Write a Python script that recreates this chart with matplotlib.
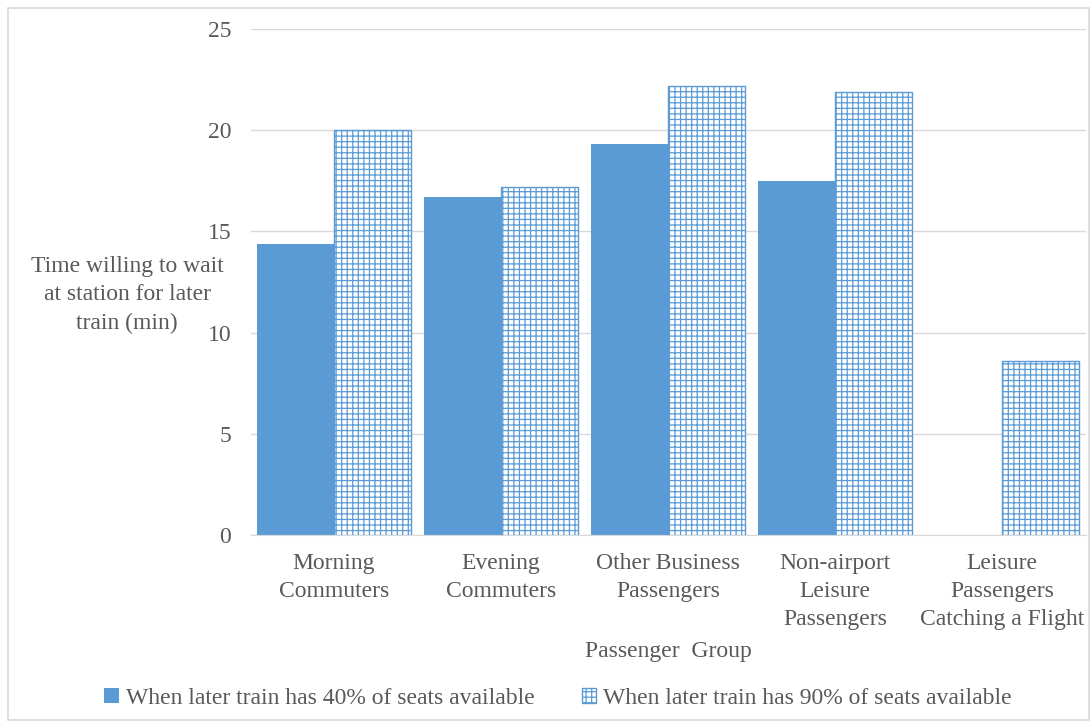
import numpy as np
import matplotlib
matplotlib.use("Agg")
import matplotlib.pyplot as plt
from matplotlib.patches import Rectangle

# data
groups = ["Morning\nCommuters", "Evening\nCommuters", "Other Business\nPassengers",
          "Non-airport\nLeisure\nPassengers", "Leisure\nPassengers\nCatching a Flight"]
seats_40 = [14.4, 16.7, 19.3, 17.5, 0.0]
seats_90 = [20.0, 17.2, 22.2, 21.9, 8.6]
yticks = [0, 5, 10, 15, 20, 25]
ylabel_lines = ["Time willing to wait", "at station for later", "train (min)"]

blue = "#5B9BD5"
txt = "#595959"
grid_c = "#D9D9D9"

plt.rcParams["font.family"] = ["Liberation Serif", "DejaVu Serif"]
plt.rcParams["hatch.linewidth"] = 0.9
plt.rcParams["hatch.color"] = blue

fig = plt.figure(figsize=(10.9, 7.21), dpi=100)
ax = fig.add_axes([250.5 / 1090, 186 / 721, 835 / 1090, 506 / 721])

x = np.arange(len(groups))
w = 0.464
ax.bar(x - w / 2, seats_40, w, color=blue, linewidth=0,
       label="When later train has 40% of seats available")
ax.bar(x + w / 2, seats_90, w, color="white", edgecolor=blue, hatch="+++", linewidth=1.0,
       label="When later train has 90% of seats available")

ax.set_xlim(-0.5, len(groups) - 0.5)
ax.set_ylim(0, 25)
ax.set_yticks(yticks)
ax.set_xticks(x)
ax.set_xticklabels(groups, fontsize=17, color=txt, linespacing=1.45)
ax.tick_params(axis="both", length=0, labelsize=17, labelcolor=txt)
ax.tick_params(axis="y", pad=14)
ax.tick_params(axis="x", pad=13)
ax.yaxis.grid(True, color=grid_c, linewidth=1)
ax.set_axisbelow(True)
for s in ["top", "right", "left"]:
    ax.spines[s].set_visible(False)
ax.spines["bottom"].set_color(grid_c)

# y label, one line per text so it sits beside the tick labels
for i, line in enumerate(ylabel_lines):
    fig.text(127 / 1090, 1 - (266 + 28.5 * i) / 721, line,
             ha="center", va="center", fontsize=17, color=txt)
fig.text(668 / 1090, 1 - 651 / 721, "Passenger  Group", ha="center", va="center",
         fontsize=17, color=txt)

fig.legend(loc="center", bbox_to_anchor=(558 / 1090, 1 - 698 / 721), ncol=2, frameon=False,
           fontsize=17, handlelength=0.6, handleheight=0.6, handletextpad=0.3,
           columnspacing=2.0, labelcolor=txt)

fig.patches.append(Rectangle((8 / 1090, 1 / 721), 1081 / 1090, 712 / 721,
                             transform=fig.transFigure, fill=False,
                             edgecolor=grid_c, linewidth=1.2))

fig.savefig("out.png", dpi=100)
